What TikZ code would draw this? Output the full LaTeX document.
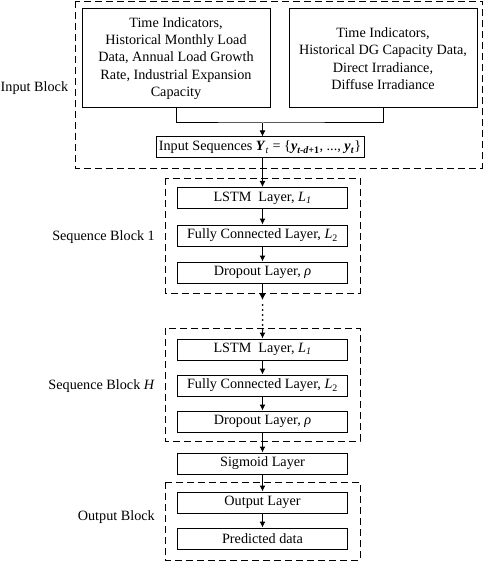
\documentclass[tikz,border=0pt]{standalone}
\usepackage{fontspec}
\setmainfont{Liberation Serif}
\usetikzlibrary{arrows.meta}
\begin{document}
\begin{tikzpicture}[x=1pt,y=-1pt,
  txt/.style={font=\fontsize{14.2}{17.3}\selectfont},
  box/.style={draw,line width=1pt,inner sep=0pt,align=center,txt},
  layer/.style={box,minimum width=170pt,minimum height=21pt},
  blk/.style={draw,line width=0.9pt,dash pattern=on 7pt off 4pt},
  lbl/.style={txt,inner sep=0pt},
  arr/.style={line width=1pt,-{Latex[length=6pt,width=6pt]}},
  ln/.style={line width=1pt}]
\useasboundingbox (0,0) rectangle (484,561);
% dashed blocks
\draw[blk] (75,1) rectangle (482.5,168);
\draw[blk] (165,178) rectangle (360,293);
\draw[blk] (165,328) rectangle (360,441);
\draw[blk] (165,482) rectangle (360,560);
% labels
\node[lbl,anchor=west] (lin) at (0.5,88) {Input Block};
\node[lbl,anchor=east] (ls1) at (155,237) {Sequence Block 1};
\node[lbl,anchor=east] (lsh) at (155,386) {Sequence Block \textit{H}};
\node[lbl,anchor=east] (lout) at (155,517) {Output Block};
% input boxes
\node[box,minimum width=188pt,minimum height=99pt] (L) at (176,58.5) {Time Indicators,\\ Historical Monthly Load\\ Data, Annual Load Growth\\ Rate, Industrial Expansion\\ Capacity};
\node[box,minimum width=188pt,minimum height=99pt] (R) at (383,58.5) {Time Indicators,\\ Historical DG Capacity Data,\\ Direct Irradiance,\\ Diffuse Irradiance};
\node[box,minimum width=208pt,minimum height=21pt] (inseq) at (260,147.5) {Input Sequences \textbf{\textit{Y}}\textsubscript{\textit{t}} = \{\textbf{\textit{y}}\textsubscript{\textbf{\textit{t-d+}1}}, ..., \textbf{\textit{y}}\textsubscript{\textbf{\textit{t}}}\}};
\coordinate (j) at (262.5,123);
% sequence block 1
\node[layer] (lstm1) at (262.5,198) {LSTM\ \ Layer, \textit{L}\textsubscript{\textit{1}}};
\node[layer] (fc1) at (262.5,235.5) {Fully Connected Layer, \textit{L}\textsubscript{2}};
\node[layer] (dr1) at (262.5,272.5) {Dropout Layer, \textit{ρ}};
% sequence block H
\node[layer] (lstmH) at (262.5,349.5) {LSTM\ \ Layer, \textit{L}\textsubscript{\textit{1}}};
\node[layer] (fcH) at (262.5,385.5) {Fully Connected Layer, \textit{L}\textsubscript{2}};
\node[layer] (drH) at (262.5,421.5) {Dropout Layer, \textit{ρ}};
\node[layer] (sig) at (262.5,463.5) {Sigmoid Layer};
\node[layer] (outl) at (262.5,502.5) {Output Layer};
\node[layer] (pred) at (262.5,538.5) {Predicted data};
\coordinate (d1) at (262.5,300);
\coordinate (d2) at (262.5,331);
% connectors
\draw[ln] (L.south) |- (j) -| (R.south);
\draw[arr] (j) -- (j |- inseq.north);
\draw[arr] (j |- inseq.south) -- (lstm1.north);
\draw[arr] (lstm1) -- (fc1);
\draw[arr] (fc1) -- (dr1);
\draw[arr] (dr1) -- (d1);
\draw[line width=2pt,line cap=round,dash pattern=on 0pt off 5pt] (262.5,305) -- (d2);
\draw[arr] (d2) -- (lstmH.north);
\draw[arr] (lstmH) -- (fcH);
\draw[arr] (fcH) -- (drH);
\draw[arr] (drH) -- (sig);
\draw[arr] (sig) -- (outl);
\draw[arr] (outl) -- (pred);
\end{tikzpicture}
\end{document}
